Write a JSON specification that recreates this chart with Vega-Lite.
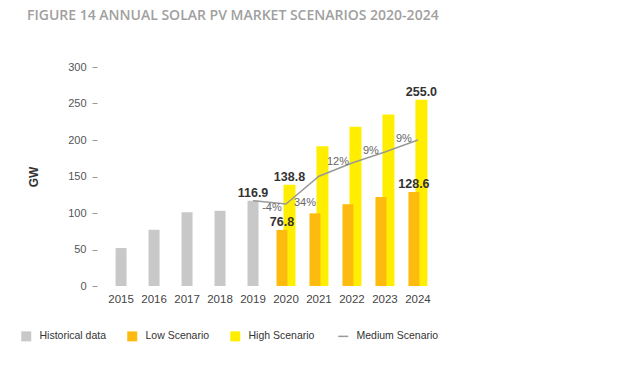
{
  "$schema": "https://vega.github.io/schema/vega-lite/v6.json",
  "width": 345,
  "height": 219,
  "autosize": {"type": "none"},
  "padding": {"left": 97, "top": 67, "right": 178, "bottom": 84},
  "background": "white",
  "title": {
    "text": "FIGURE 14 ANNUAL SOLAR PV MARKET SCENARIOS 2020-2024",
    "anchor": "start",
    "frame": "group",
    "dx": -70,
    "offset": 38,
    "font": "Open Sans",
    "fontSize": 14,
    "fontWeight": 600,
    "color": "#a0a0a0"
  },
  "data": {
    "values": [
      {"year": 2015, "series": "Historical data", "value": 52},
      {"year": 2016, "series": "Historical data", "value": 77},
      {"year": 2017, "series": "Historical data", "value": 101},
      {"year": 2018, "series": "Historical data", "value": 103},
      {"year": 2019, "series": "Historical data", "value": 116.9},
      {"year": 2020, "series": "Low Scenario", "value": 76.8},
      {"year": 2021, "series": "Low Scenario", "value": 99.5},
      {"year": 2022, "series": "Low Scenario", "value": 112},
      {"year": 2023, "series": "Low Scenario", "value": 122},
      {"year": 2024, "series": "Low Scenario", "value": 128.6},
      {"year": 2020, "series": "High Scenario", "value": 138.8},
      {"year": 2021, "series": "High Scenario", "value": 191.5},
      {"year": 2022, "series": "High Scenario", "value": 218},
      {"year": 2023, "series": "High Scenario", "value": 235},
      {"year": 2024, "series": "High Scenario", "value": 255.0},
      {"year": 2019, "series": "Medium Scenario", "value": 116.9},
      {"year": 2020, "series": "Medium Scenario", "value": 112.2, "growth": "-4%"},
      {"year": 2021, "series": "Medium Scenario", "value": 150.4, "growth": "34%"},
      {"year": 2022, "series": "Medium Scenario", "value": 168.5, "growth": "12%"},
      {"year": 2023, "series": "Medium Scenario", "value": 183.6, "growth": "9%"},
      {"year": 2024, "series": "Medium Scenario", "value": 200.1, "growth": "9%"}
    ]
  },
  "encoding": {
    "x": {
      "field": "year",
      "type": "ordinal",
      "scale": {"domain": [2015, 2016, 2017, 2018, 2019, 2020, 2021, 2022, 2023, 2024], "paddingInner": 0, "paddingOuter": 0.23},
      "axis": {"title": null, "labelAngle": 0, "ticks": false, "domain": false, "labelPadding": 7, "labelFontSize": 11.5, "labelColor": "#444", "labelFont": "Liberation Sans"}
    },
    "y": {
      "field": "value",
      "type": "quantitative",
      "scale": {"domain": [0, 300], "nice": false},
      "axis": {
        "title": "GW",
        "titleFont": "Liberation Sans",
        "titleFontSize": 12,
        "titleFontWeight": "bold",
        "titleColor": "#333",
        "titlePadding": 27,
        "grid": false,
        "domain": false,
        "tickSize": 5,
        "tickColor": "#999",
        "labelPadding": 6,
        "labelFont": "Liberation Sans",
        "labelFontSize": 11,
        "labelColor": "#555",
        "values": [0, 50, 100, 150, 200, 250, 300]
      }
    }
  },
  "layer": [
    {
      "transform": [{"filter": "datum.series === 'Historical data'"}],
      "mark": {"type": "bar", "width": 11},
      "encoding": {"color": {"field": "series", "type": "nominal", "scale": {"domain": ["Historical data", "Low Scenario", "High Scenario", "Medium Scenario"], "range": ["#c8c8c8", "#fdbb10", "#ffee00", "#999999"]},
        "legend": {
          "orient": "none", "legendX": -76, "legendY": 264, "direction": "horizontal", "title": null,
          "symbolSize": 100, "labelFont": "Liberation Sans", "labelFontSize": 10.5, "labelColor": "#333",
          "columnPadding": 20, "labelOffset": 8,
          "encode": {"symbols": {"update": {
            "shape": {"signal": "datum.value === 'Medium Scenario' ? 'stroke' : 'square'"},
            "fill": {"signal": "datum.value === 'Medium Scenario' ? 'transparent' : scale('color', datum.value)"},
            "stroke": {"signal": "scale('color', datum.value)"},
            "strokeWidth": {"signal": "datum.value === 'Medium Scenario' ? 1.5 : 0"},
            "opacity": {"value": 1}
          }}}
        }}}
    },
    {
      "transform": [{"filter": "datum.series === 'High Scenario'"}],
      "mark": {"type": "bar", "width": 12, "xOffset": 3.5},
      "encoding": {"color": {"field": "series", "type": "nominal"}}
    },
    {
      "transform": [{"filter": "datum.series === 'Low Scenario'"}],
      "mark": {"type": "bar", "width": 11, "xOffset": -4},
      "encoding": {"color": {"field": "series", "type": "nominal"}}
    },
    {
      "transform": [{"filter": "datum.series === 'Medium Scenario'"}],
      "mark": {"type": "line", "strokeWidth": 1.5},
      "encoding": {"color": {"field": "series", "type": "nominal"}}
    },
    {
      "transform": [{"filter": "datum.series === 'Historical data' && datum.year === 2019"}],
      "mark": {"type": "text", "font": "Liberation Sans", "fontSize": 12.5, "fontWeight": "bold", "color": "#333", "baseline": "bottom", "dy": -1},
      "encoding": {"text": {"field": "value", "type": "quantitative", "format": ".1f"}}
    },
    {
      "transform": [{"filter": "datum.series === 'High Scenario' && (datum.year === 2020 || datum.year === 2024)"}],
      "mark": {"type": "text", "font": "Liberation Sans", "fontSize": 12.5, "fontWeight": "bold", "color": "#333", "baseline": "bottom", "dy": -1, "xOffset": 3.5},
      "encoding": {"text": {"field": "value", "type": "quantitative", "format": ".1f"}}
    },
    {
      "transform": [{"filter": "datum.series === 'Low Scenario' && (datum.year === 2020 || datum.year === 2024)"}],
      "mark": {"type": "text", "font": "Liberation Sans", "fontSize": 12.5, "fontWeight": "bold", "color": "#333", "baseline": "bottom", "dy": -1, "xOffset": -4},
      "encoding": {"text": {"field": "value", "type": "quantitative", "format": ".1f"}}
    },
    {
      "transform": [{"filter": "datum.growth === '12%' || datum.growth === '9%'"}],
      "mark": {"type": "text", "font": "Liberation Sans", "fontSize": 11, "color": "#666", "baseline": "middle", "dx": -14, "dy": -1},
      "encoding": {"text": {"field": "growth", "type": "nominal"}}
    },
    {
      "transform": [{"filter": "datum.growth === '-4%'"}],
      "mark": {"type": "text", "font": "Liberation Sans", "fontSize": 11, "color": "#666", "baseline": "middle", "dx": -14, "dy": 4},
      "encoding": {"text": {"field": "growth", "type": "nominal"}}
    },
    {
      "transform": [{"filter": "datum.growth === '34%'"}],
      "mark": {"type": "text", "font": "Liberation Sans", "fontSize": 11, "color": "#666", "baseline": "middle", "dx": -14, "dy": 27},
      "encoding": {"text": {"field": "growth", "type": "nominal"}}
    }
  ],
  "config": {"view": {"stroke": null}}
}
